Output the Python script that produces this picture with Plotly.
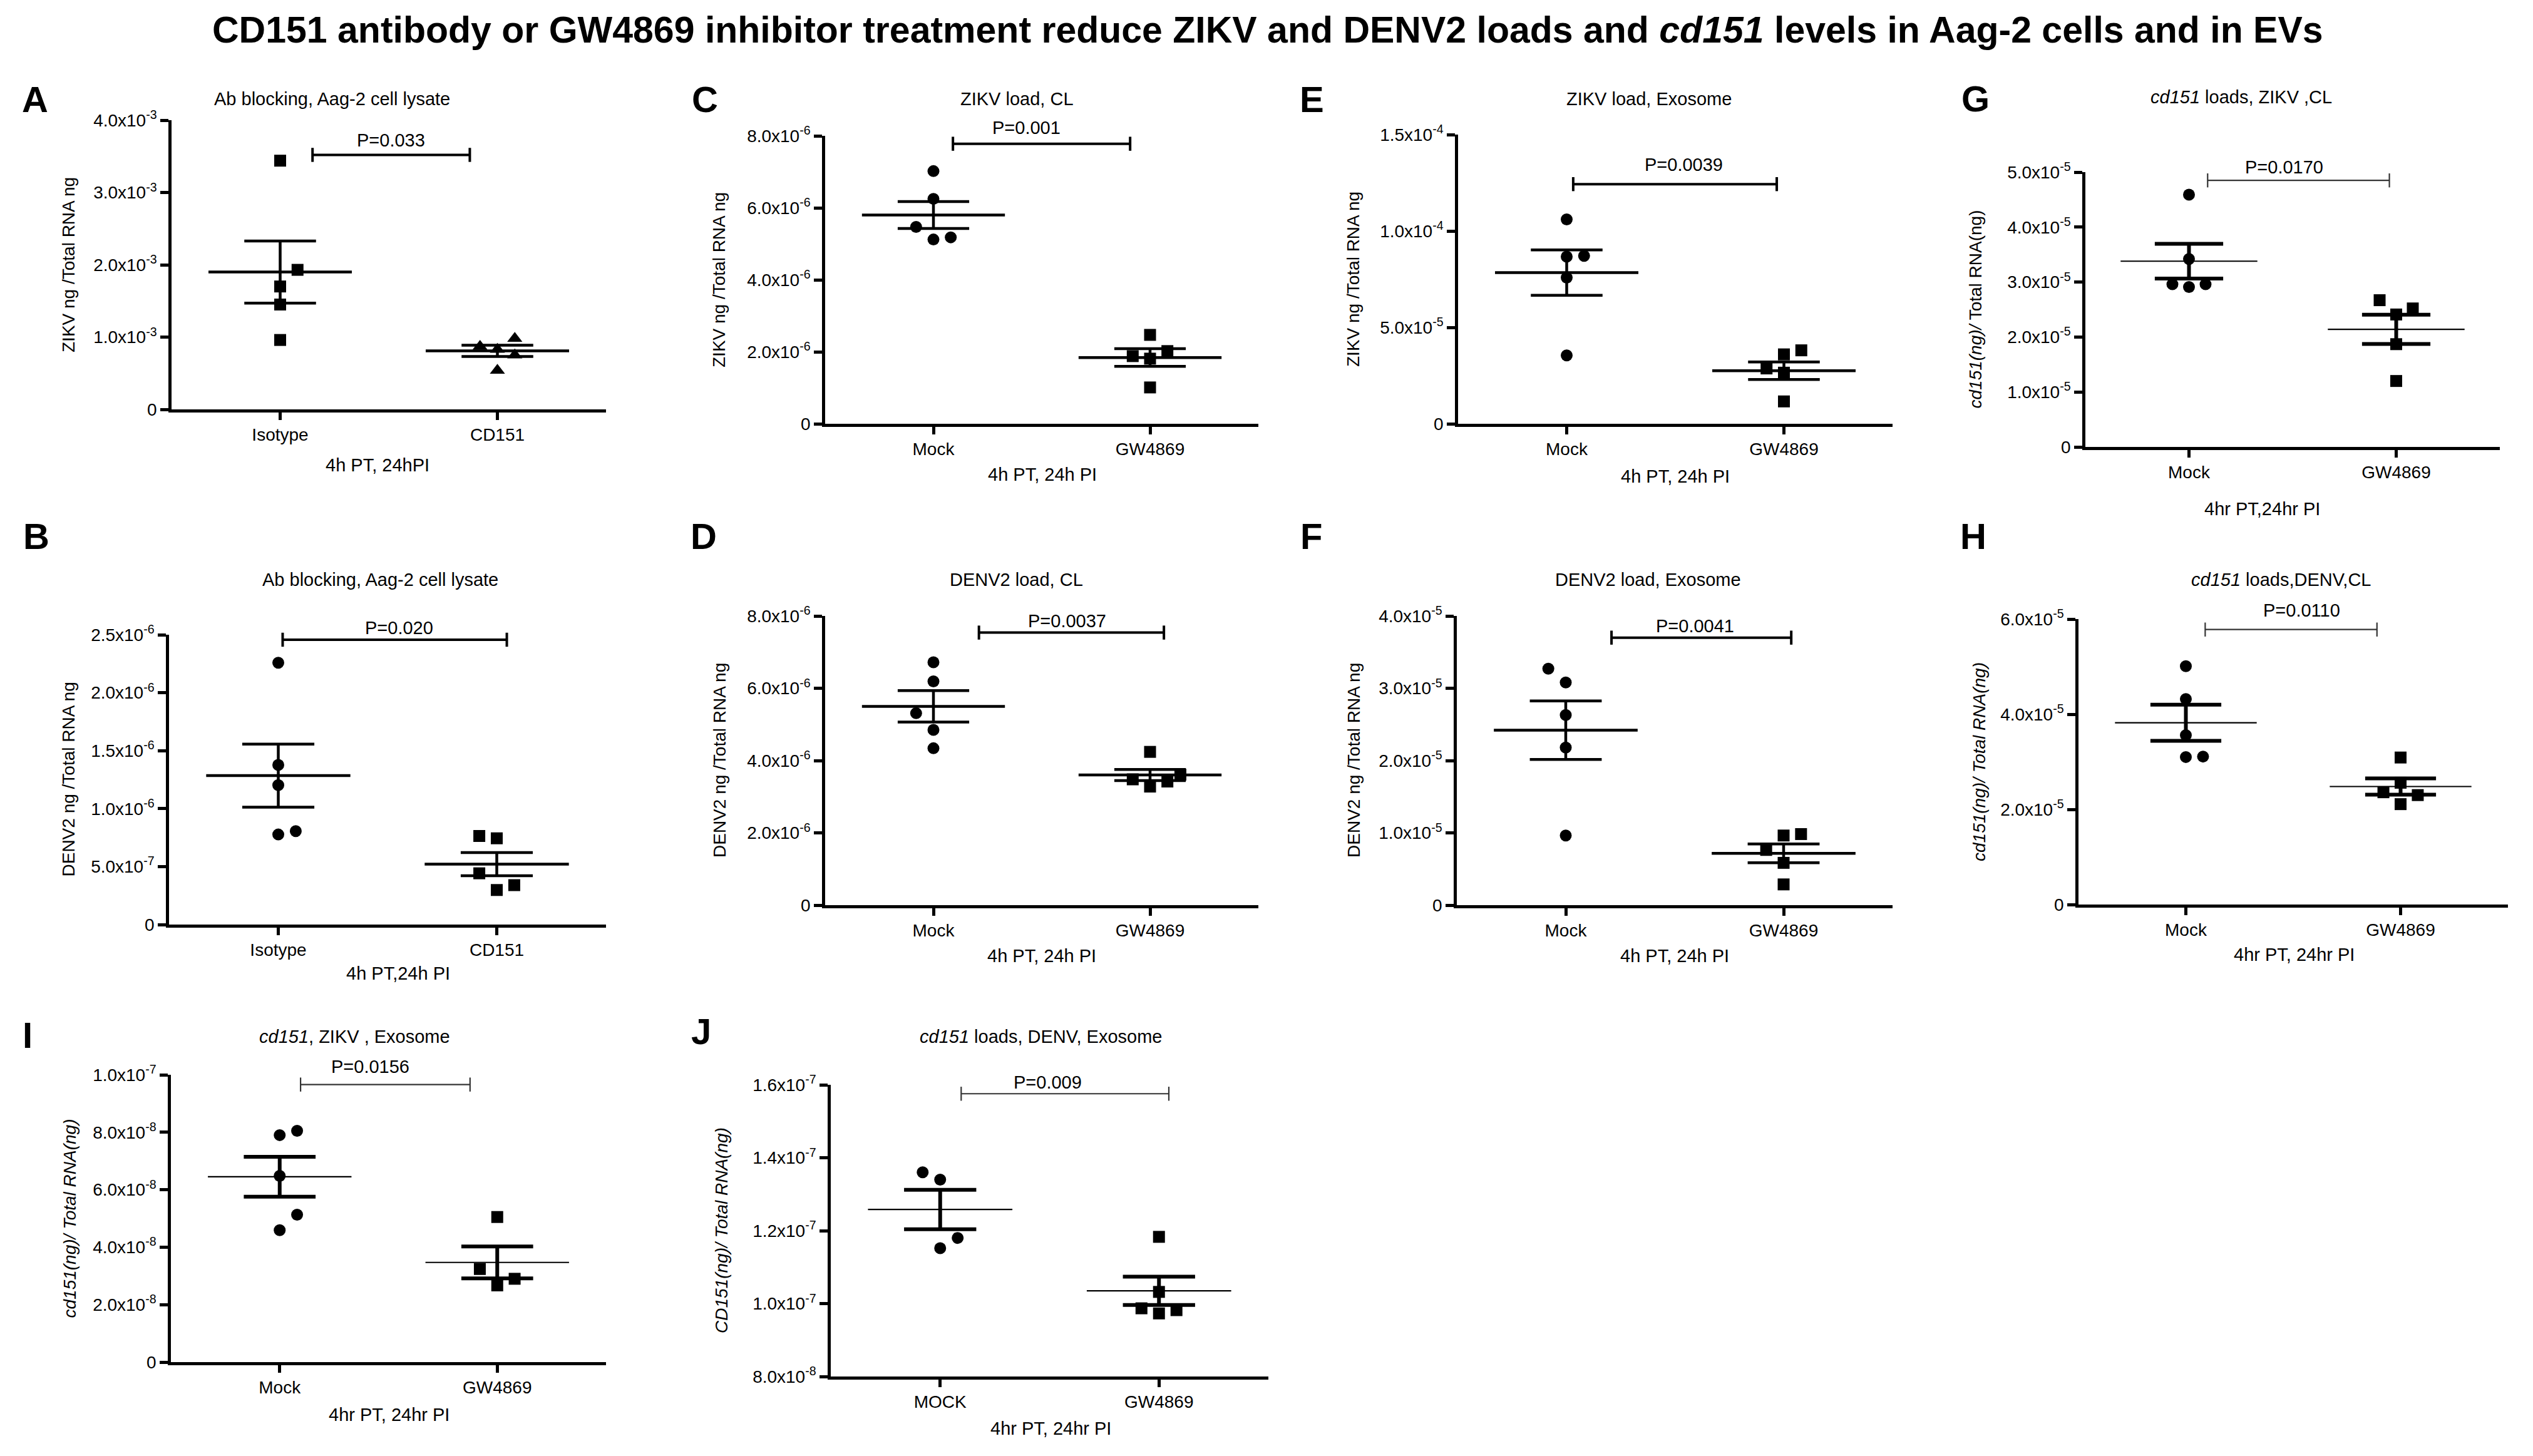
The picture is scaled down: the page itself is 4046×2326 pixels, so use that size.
import numpy as np
import plotly.graph_objects as go

W, H = 4046, 2326
OFF = 8  # the page body margin shifts the figure by this many px
FONT = "Liberation Sans, Arial, sans-serif"

# ---- values ----
# A: ZIKV, antibody blocking
a_groups = ["Isotype", "CD151"]
a_isotype = [3.44e-3, 1.93e-3, 1.70e-3, 1.45e-3, 0.96e-3]
a_cd151 = [0.98e-3, 0.87e-3, 0.83e-3, 0.75e-3, 0.54e-3]
a_mean = [1.90e-3, 0.81e-3]
a_sem = [0.43e-3, 0.078e-3]
a_yticks = [0, 1e-3, 2e-3, 3e-3, 4e-3]

# B: DENV2, antibody blocking
b_groups = ["Isotype", "CD151"]
b_isotype = [2.258e-6, 1.377e-6, 1.203e-6, 0.777e-6, 0.806e-6]
b_cd151 = [0.764e-6, 0.744e-6, 0.442e-6, 0.340e-6, 0.298e-6]
b_mean = [1.285e-6, 0.521e-6]
b_sem = [0.272e-6, 0.100e-6]
b_yticks = [0, 5e-7, 1e-6, 1.5e-6, 2e-6, 2.5e-6]

# C: ZIKV load, CL
c_groups = ["Mock", "GW4869"]
c_mock = [7.02e-6, 6.25e-6, 5.47e-6, 5.12e-6, 5.18e-6]
c_gw = [2.47e-6, 2.02e-6, 1.88e-6, 1.81e-6, 1.01e-6]
c_mean = [5.80e-6, 1.84e-6]
c_sem = [0.375e-6, 0.245e-6]
c_yticks = [0, 2e-6, 4e-6, 6e-6, 8e-6]

# D: DENV2 load, CL
d_groups = ["Mock", "GW4869"]
d_mock = [6.72e-6, 6.19e-6, 5.31e-6, 4.85e-6, 4.34e-6]
d_gw = [4.24e-6, 3.61e-6, 3.48e-6, 3.42e-6, 3.28e-6]
d_mean = [5.50e-6, 3.60e-6]
d_sem = [0.435e-6, 0.155e-6]
d_yticks = [0, 2e-6, 4e-6, 6e-6, 8e-6]

# E: ZIKV load, Exosome
e_groups = ["Mock", "GW4869"]
e_mock = [1.06e-4, 0.867e-4, 0.871e-4, 0.758e-4, 0.355e-4]
e_gw = [0.381e-4, 0.360e-4, 0.287e-4, 0.265e-4, 0.116e-4]
e_mean = [0.784e-4, 0.275e-4]
e_sem = [0.118e-4, 0.0455e-4]
e_yticks = [0, 5e-5, 1e-4, 1.5e-4]

# F: DENV2 load, Exosome
f_groups = ["Mock", "GW4869"]
f_mock = [3.27e-5, 3.08e-5, 2.63e-5, 2.18e-5, 0.963e-5]
f_gw = [0.983e-5, 0.963e-5, 0.764e-5, 0.585e-5, 0.287e-5]
f_mean = [2.42e-5, 0.716e-5]
f_sem = [0.405e-5, 0.13e-5]
f_yticks = [0, 1e-5, 2e-5, 3e-5, 4e-5]

# G: cd151, ZIKV, CL
g_groups = ["Mock", "GW4869"]
g_mock = [4.59e-5, 3.42e-5, 2.96e-5, 2.91e-5, 2.96e-5]
g_gw = [2.67e-5, 2.52e-5, 2.41e-5, 1.87e-5, 1.20e-5]
g_mean = [3.38e-5, 2.14e-5]
g_sem = [0.315e-5, 0.265e-5]
g_yticks = [0, 1e-5, 2e-5, 3e-5, 4e-5, 5e-5]

# H: cd151, DENV, CL
h_groups = ["Mock", "GW4869"]
h_mock = [5.01e-5, 4.32e-5, 3.56e-5, 3.10e-5, 3.11e-5]
h_gw = [3.09e-5, 2.56e-5, 2.36e-5, 2.30e-5, 2.11e-5]
h_mean = [3.82e-5, 2.48e-5]
h_sem = [0.38e-5, 0.17e-5]
h_yticks = [0, 2e-5, 4e-5, 6e-5]

# I: cd151, ZIKV, Exosome
i_groups = ["Mock", "GW4869"]
i_mock = [8.05e-8, 7.90e-8, 6.48e-8, 5.13e-8, 4.59e-8]
i_gw = [5.05e-8, 3.24e-8, 2.90e-8, 2.67e-8]
i_mean = [6.45e-8, 3.47e-8]
i_sem = [0.695e-8, 0.555e-8]
i_yticks = [0, 2e-8, 4e-8, 6e-8, 8e-8, 1e-7]

# J: cd151, DENV, Exosome
j_groups = ["MOCK", "GW4869"]
j_mock = [1.360e-7, 1.340e-7, 1.180e-7, 1.152e-7]
j_gw = [1.183e-7, 1.032e-7, 0.987e-7, 0.982e-7, 0.973e-7]
j_mean = [1.258e-7, 1.035e-7]
j_sem = [0.054e-7, 0.039e-7]
j_yticks = [8e-8, 1e-7, 1.2e-7, 1.4e-7, 1.6e-7]

# p-values and the height of their brackets
p_text = ["P=0.033", "P=0.020", "P=0.001", "P=0.0037", "P=0.0039",
          "P=0.0041", "P=0.0170", "P=0.0110", "P=0.0156", "P=0.009"]
p_height = [3.52e-3, 2.457e-6, 7.78e-6, 7.54e-6, 1.243e-4,
            3.70e-5, 4.85e-5, 5.78e-5, 9.66e-8, 1.5755e-7]

# column slot of each dot (GraphPad-style side-by-side placement)
slots = {
    "A": ([0, 1, 0, 0, 0], [1, -1, 0, 1, 0]),
    "B": ([0, 0, 0, 0, 1], [-1, 0, -1, 1, 0]),
    "C": ([0, 0, -1, 0, 1], [0, 1, -1, 0, 0]),
    "D": ([0, 0, -1, 0, 0], [0, 1.75, -1, 1, 0]),
    "E": ([0, 0, 1, 0, 0], [1, 0, -1, 0, 0]),
    "F": ([-1, 0, 0, 0, 0], [1, 0, -1, 0, 0]),
    "G": ([0, 0, -1, 0, 1], [-1, 1, 0, 0, 0]),
    "H": ([0, 0, 0, 0, 1], [0, 0, -1, 1, 0]),
    "I": ([1, 0, 0, 1, 0], [0, -1, 1, 0]),
    "J": ([-1, 0, 1, 0], [0, 0, -1, 1, 0]),
}

panels = [
    dict(key="A", groups=a_groups, vals=[a_isotype, a_cd151], mean=a_mean, sem=a_sem,
         yticks=a_yticks, sym=["square", "triangle-up"],
         title="Ab blocking, Aag-2 cell lysate", ytitle="ZIKV ng /Total RNA ng",
         xtitle="4h PT, 24hPI"),
    dict(key="B", groups=b_groups, vals=[b_isotype, b_cd151], mean=b_mean, sem=b_sem,
         yticks=b_yticks, sym=["circle", "square"],
         title="Ab blocking, Aag-2 cell lysate", ytitle="DENV2 ng /Total RNA ng",
         xtitle="4h PT,24h PI"),
    dict(key="C", groups=c_groups, vals=[c_mock, c_gw], mean=c_mean, sem=c_sem,
         yticks=c_yticks, sym=["circle", "square"],
         title="ZIKV load, CL", ytitle="ZIKV ng /Total RNA ng", xtitle="4h PT, 24h PI"),
    dict(key="D", groups=d_groups, vals=[d_mock, d_gw], mean=d_mean, sem=d_sem,
         yticks=d_yticks, sym=["circle", "square"],
         title="DENV2 load, CL", ytitle="DENV2 ng /Total RNA ng", xtitle="4h PT, 24h PI"),
    dict(key="E", groups=e_groups, vals=[e_mock, e_gw], mean=e_mean, sem=e_sem,
         yticks=e_yticks, sym=["circle", "square"],
         title="ZIKV load, Exosome", ytitle="ZIKV ng /Total RNA ng", xtitle="4h PT, 24h PI"),
    dict(key="F", groups=f_groups, vals=[f_mock, f_gw], mean=f_mean, sem=f_sem,
         yticks=f_yticks, sym=["circle", "square"],
         title="DENV2 load, Exosome", ytitle="DENV2 ng /Total RNA ng", xtitle="4h PT, 24h PI"),
    dict(key="G", groups=g_groups, vals=[g_mock, g_gw], mean=g_mean, sem=g_sem,
         yticks=g_yticks, sym=["circle", "square"],
         title="<i>cd151</i> loads, ZIKV ,CL", ytitle="<i>cd151(ng)/</i> Total RNA(ng)",
         xtitle="4hr PT,24hr PI"),
    dict(key="H", groups=h_groups, vals=[h_mock, h_gw], mean=h_mean, sem=h_sem,
         yticks=h_yticks, sym=["circle", "square"],
         title="<i>cd151</i> loads,DENV,CL", ytitle="<i>cd151(ng)/ Total RNA(ng)</i>",
         xtitle="4hr PT, 24hr PI"),
    dict(key="I", groups=i_groups, vals=[i_mock, i_gw], mean=i_mean, sem=i_sem,
         yticks=i_yticks, sym=["circle", "square"],
         title="<i>cd151</i>, ZIKV , Exosome", ytitle="<i>cd151(ng)/ Total RNA(ng)</i>",
         xtitle="4hr PT, 24hr PI"),
    dict(key="J", groups=j_groups, vals=[j_mock, j_gw], mean=j_mean, sem=j_sem,
         yticks=j_yticks, sym=["circle", "square"],
         title="<i>cd151</i> loads, DENV, Exosome", ytitle="<i>CD151(ng)/ Total RNA(ng)</i>",
         xtitle="4hr PT, 24hr PI"),
]

# ---- layout of each panel, in pixels of the page ----
# box = x0, x1, ytop, ybot of the plot area; tt title; lt letter; yt y-title x;
# xt x-title; br bracket ends (category units); pdx p-text shift; lift p-text px
geom = {
    "A": dict(box=(274, 968, 192, 654), tt=(530, 158), lt=(56, 158), yt=109, xt=(603, 743),
              br=(0.149, 0.873), pdx=0.0, lift=23, thin=False),
    "B": dict(box=(270, 968, 1014, 1477), tt=(607, 926), lt=(58, 856), yt=109, xt=(636, 1555),
              br=(0.02, 1.046), pdx=0.02, lift=19, thin=False),
    "C": dict(box=(1318, 2010, 217, 677), tt=(1624, 158), lt=(1126, 158), yt=1149, xt=(1665, 758),
              br=(0.09, 0.908), pdx=-0.07, lift=26, thin=False),
    "D": dict(box=(1318, 2010, 984, 1446), tt=(1623, 926), lt=(1124, 856), yt=1149, xt=(1664, 1527),
              br=(0.21, 1.064), pdx=-0.02, lift=19, thin=False),
    "E": dict(box=(2329, 3023, 215, 677), tt=(2634, 158), lt=(2095, 158), yt=2162, xt=(2676, 761),
              br=(0.03, 0.967), pdx=0.04, lift=31, thin=False),
    "F": dict(box=(2327, 3023, 984, 1446), tt=(2632, 926), lt=(2094, 856), yt=2162, xt=(2675, 1527),
              br=(0.21, 1.035), pdx=-0.03, lift=19, thin=False),
    "G": dict(box=(3331, 3993, 275, 714), tt=(3580, 155), lt=(3155, 157), yt=3155, xt=(3613, 813),
              br=(0.09, 0.967), pdx=-0.07, lift=21, thin=True),
    "H": dict(box=(3320, 4006, 989, 1445), tt=(3644, 926), lt=(3152, 856), yt=3161, xt=(3664, 1525),
              br=(0.09, 0.89), pdx=0.05, lift=31, thin=True),
    "I": dict(box=(273, 968, 1717, 2176), tt=(566, 1656), lt=(44, 1654), yt=111, xt=(621, 2260),
              br=(0.096, 0.875), pdx=-0.07, lift=29, thin=True),
    "J": dict(box=(1327, 2026, 1733, 2199), tt=(1662, 1656), lt=(1120, 1647), yt=1152, xt=(1678, 2282),
              br=(0.096, 1.045), pdx=-0.08, lift=18, thin=True),
}

STEP = 0.08       # horizontal offset of one dot slot, category units
HALF_MEAN = 0.33  # half length of the mean line
HALF_CAP = 0.165  # half length of the SEM caps
AXIS_W = 4.5


def sci(v):
    if v == 0:
        return "0"
    e = int(np.floor(np.log10(abs(v)) + 1e-9))
    return f"{v / 10 ** e:.1f}x10<sup>{e}</sup>"


def px(x, y):
    return (x - OFF) / W, 1 - (y - OFF) / H


fig = go.Figure()
annotations = []
layout_axes = {}

for k, p in enumerate(panels, start=1):
    g = geom[p["key"]]
    x0, x1, yt, yb = g["box"]
    xr, yr = f"x{k}", f"y{k}"
    px_per_cat = (x1 - x0) / 2.0
    thin = g["thin"]
    mean_w = 2.2 if thin else 4.5
    sem_w = 6.0 if thin else 4.5
    bar_w = 2.2 if thin else 4.0
    bar_c = "#333333" if thin else "black"

    ymin = p["yticks"][0]
    ymax = p["yticks"][-1]
    dx0, dy0 = px(x0, yb)
    dx1, dy1 = px(x1, yt)

    layout_axes[f"xaxis{k}"] = dict(
        domain=[dx0, dx1], range=[-0.5, 1.5], anchor=yr, automargin=False,
        tickvals=[0, 1], ticktext=p["groups"],
        showline=True, linecolor="black", linewidth=AXIS_W,
        ticks="outside", ticklen=12, tickwidth=AXIS_W, tickcolor="black",
        showgrid=False, zeroline=False,
        tickfont=dict(family=FONT, size=28, color="black"),
    )
    layout_axes[f"yaxis{k}"] = dict(
        domain=[dy0, dy1], range=[ymin, ymax], anchor=xr, automargin=False,
        tickvals=p["yticks"], ticktext=[sci(v) for v in p["yticks"]],
        showline=True, linecolor="black", linewidth=AXIS_W,
        ticks="outside", ticklen=13, tickwidth=AXIS_W, tickcolor="black",
        showgrid=False, zeroline=False,
        tickfont=dict(family=FONT, size=28, color="black"),
    )

    for gi, vals in enumerate(p["vals"]):
        sl = slots[p["key"]][gi]
        sym = p["sym"][gi]
        size = 21 if sym == "triangle-up" else 19
        fig.add_trace(go.Scatter(
            x=[gi + s * STEP for s in sl], y=vals, mode="markers",
            marker=dict(symbol=sym, size=size, color="black", line=dict(width=0)),
            xaxis=xr, yaxis=yr, cliponaxis=False, showlegend=False,
        ))
        m = p["mean"][gi]
        fig.add_trace(go.Scatter(
            x=[gi - HALF_MEAN, gi + HALF_MEAN], y=[m, m], mode="lines",
            line=dict(color="black", width=mean_w),
            xaxis=xr, yaxis=yr, showlegend=False,
        ))
        fig.add_trace(go.Scatter(
            x=[gi], y=[m], mode="markers",
            marker=dict(size=1, color="rgba(0,0,0,0)"),
            error_y=dict(type="data", array=[p["sem"][gi]], symmetric=True,
                         color="black", thickness=sem_w, width=HALF_CAP * px_per_cat),
            xaxis=xr, yaxis=yr, showlegend=False,
        ))

    # significance bracket
    bx0, bx1 = g["br"]
    py = p_height[k - 1]
    fig.add_trace(go.Scatter(
        x=[bx0, bx1], y=[py, py], mode="lines+markers",
        line=dict(color=bar_c, width=bar_w),
        marker=dict(symbol="line-ns-open", size=16, line=dict(color=bar_c, width=bar_w)),
        xaxis=xr, yaxis=yr, cliponaxis=False, showlegend=False,
    ))
    annotations.append(dict(
        x=(bx0 + bx1) / 2 + g["pdx"], y=py, xref=xr, yref=yr, text=p_text[k - 1],
        showarrow=False, yanchor="middle", xanchor="center", yshift=g["lift"],
        font=dict(family=FONT, size=29, color="black"),
    ))

    # panel title
    tx, ty = px(*g["tt"])
    annotations.append(dict(x=tx, y=ty, xref="paper", yref="paper", text=p["title"],
                            showarrow=False, xanchor="center", yanchor="middle",
                            font=dict(family=FONT, size=29, color="black")))
    # panel letter
    lx, ly = px(*g["lt"])
    annotations.append(dict(x=lx, y=ly, xref="paper", yref="paper", text=f"<b>{p['key']}</b>",
                            showarrow=False, xanchor="center", yanchor="middle",
                            font=dict(family=FONT, size=58, color="black")))
    # y-axis title
    ytx, yty = px(g["yt"], (yt + yb) / 2)
    annotations.append(dict(x=ytx, y=yty, xref="paper", yref="paper", text=p["ytitle"],
                            showarrow=False, textangle=-90, xanchor="center", yanchor="middle",
                            font=dict(family=FONT, size=28, color="black")))
    # x-axis title
    xtx, xty = px(*g["xt"])
    annotations.append(dict(x=xtx, y=xty, xref="paper", yref="paper", text=p["xtitle"],
                            showarrow=False, xanchor="center", yanchor="middle",
                            font=dict(family=FONT, size=29, color="black")))

# figure title
mx, my = px(2025, 48)
annotations.append(dict(
    x=mx, y=my, xref="paper", yref="paper", showarrow=False,
    xanchor="center", yanchor="middle",
    text="<b>CD151 antibody or GW4869 inhibitor treatment reduce ZIKV and DENV2 loads and "
         "<i>cd151</i> levels in Aag-2 cells and in EVs</b>",
    font=dict(family=FONT, size=59, color="black"),
))

fig.update_layout(
    width=W, height=H, autosize=False,
    margin=dict(l=0, r=0, t=0, b=0, pad=0),
    paper_bgcolor="white", plot_bgcolor="white",
    showlegend=False,
    annotations=annotations,
    **layout_axes,
)

fig.write_html("out.html")
